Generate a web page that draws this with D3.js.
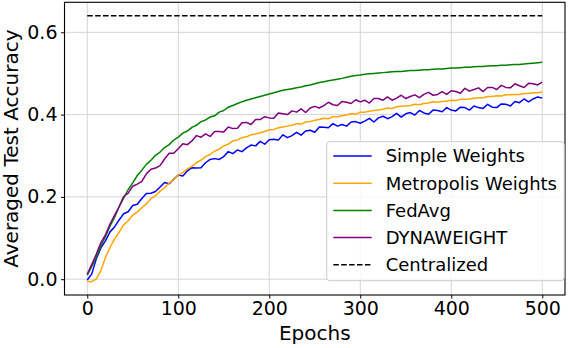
<!DOCTYPE html>
<html>
<head>
<meta charset="utf-8">
<script src="https://cdn.jsdelivr.net/npm/d3@7"></script>
<style>
  html, body { margin: 0; padding: 0; background: #fff; }
  svg { display: block; font-family: "DejaVu Sans", sans-serif; }
</style>
</head>
<body>
<script>
const width = 568;
const height = 348;

// epochs sampled every 5
const epochs = d3.range(0, 505, 5);

const simpleWeights = [
  -0.002, 0.013, 0.050, 0.076, 0.093, 0.115, 0.127, 0.144, 0.159, 0.164,
  0.179, 0.182, 0.196, 0.208, 0.209, 0.213, 0.224, 0.235, 0.232, 0.243,
  0.253, 0.251, 0.263, 0.271, 0.270, 0.271, 0.283, 0.291, 0.293, 0.291,
  0.298, 0.310, 0.305, 0.314, 0.310, 0.319, 0.326, 0.324, 0.335, 0.328,
  0.339, 0.340, 0.338, 0.351, 0.344, 0.349, 0.357, 0.350, 0.360, 0.362,
  0.357, 0.370, 0.369, 0.368, 0.378, 0.372, 0.376, 0.372, 0.382, 0.383,
  0.379, 0.384, 0.391, 0.382, 0.392, 0.396, 0.390, 0.395, 0.403, 0.394,
  0.402, 0.405, 0.399, 0.410, 0.404, 0.401, 0.411, 0.410, 0.407, 0.417,
  0.411, 0.409, 0.418, 0.417, 0.411, 0.421, 0.417, 0.415, 0.425, 0.418,
  0.417, 0.426, 0.425, 0.421, 0.432, 0.429, 0.438, 0.431, 0.438, 0.443,
  0.440
];

const metropolisWeights = [
  -0.005, -0.006, 0.001, 0.021, 0.053, 0.077, 0.098, 0.114, 0.132, 0.142,
  0.156, 0.163, 0.174, 0.183, 0.196, 0.203, 0.214, 0.222, 0.234, 0.242,
  0.253, 0.259, 0.268, 0.274, 0.283, 0.289, 0.298, 0.303, 0.311, 0.316,
  0.324, 0.328, 0.336, 0.338, 0.344, 0.346, 0.351, 0.353, 0.356, 0.359,
  0.363, 0.364, 0.368, 0.370, 0.372, 0.374, 0.378, 0.377, 0.382, 0.383,
  0.386, 0.388, 0.391, 0.390, 0.395, 0.395, 0.397, 0.399, 0.402, 0.401,
  0.406, 0.406, 0.408, 0.410, 0.411, 0.413, 0.416, 0.415, 0.419, 0.420,
  0.421, 0.422, 0.425, 0.424, 0.427, 0.428, 0.431, 0.430, 0.432, 0.433,
  0.435, 0.434, 0.437, 0.437, 0.438, 0.440, 0.441, 0.441, 0.444, 0.444,
  0.446, 0.445, 0.448, 0.448, 0.449, 0.449, 0.451, 0.451, 0.453, 0.453,
  0.455
];

const fedAvg = [
  0.010, 0.031, 0.054, 0.081, 0.104, 0.129, 0.150, 0.176, 0.197, 0.218,
  0.234, 0.252, 0.265, 0.279, 0.289, 0.301, 0.309, 0.320, 0.327, 0.338,
  0.345, 0.355, 0.360, 0.369, 0.374, 0.383, 0.387, 0.394, 0.397, 0.406,
  0.410, 0.418, 0.422, 0.427, 0.431, 0.435, 0.438, 0.441, 0.444, 0.447,
  0.450, 0.453, 0.456, 0.459, 0.461, 0.463, 0.465, 0.467, 0.470, 0.472,
  0.475, 0.478, 0.480, 0.482, 0.484, 0.486, 0.488, 0.491, 0.493, 0.495,
  0.496, 0.498, 0.499, 0.500, 0.501, 0.502, 0.503, 0.504, 0.505, 0.505,
  0.506, 0.507, 0.507, 0.508, 0.509, 0.509, 0.510, 0.511, 0.511, 0.512,
  0.513, 0.513, 0.514, 0.515, 0.515, 0.516, 0.517, 0.517, 0.518, 0.519,
  0.519, 0.520, 0.520, 0.521, 0.522, 0.522, 0.523, 0.524, 0.525, 0.526,
  0.527
];

const dynaWeight = [
  0.012, 0.036, 0.061, 0.089, 0.108, 0.134, 0.155, 0.176, 0.201, 0.209,
  0.226, 0.231, 0.238, 0.256, 0.267, 0.270, 0.276, 0.292, 0.306, 0.306,
  0.317, 0.329, 0.327, 0.336, 0.349, 0.345, 0.353, 0.347, 0.359, 0.359,
  0.358, 0.370, 0.366, 0.367, 0.380, 0.381, 0.376, 0.388, 0.388, 0.395,
  0.392, 0.391, 0.404, 0.402, 0.400, 0.409, 0.406, 0.414, 0.405, 0.416,
  0.420, 0.416, 0.422, 0.430, 0.424, 0.422, 0.432, 0.430, 0.427, 0.436,
  0.431, 0.435, 0.428, 0.439, 0.439, 0.435, 0.443, 0.435, 0.440, 0.447,
  0.439, 0.444, 0.448, 0.441, 0.449, 0.454, 0.447, 0.449, 0.456, 0.449,
  0.458, 0.456, 0.452, 0.464, 0.457, 0.461, 0.465, 0.456, 0.466, 0.466,
  0.461, 0.471, 0.466, 0.465, 0.475, 0.470, 0.466, 0.476, 0.475, 0.472,
  0.479
];

const centralizedEpochs = [0, 500];
const centralized = [0.64, 0.64];

const xTicks = [0, 100, 200, 300, 400, 500];
const yTicks = [0.0, 0.2, 0.4, 0.6];

const series = [
  { name: "Simple Weights", color: "#0000ff", x: epochs, y: simpleWeights, dash: null },
  { name: "Metropolis Weights", color: "#ffa500", x: epochs, y: metropolisWeights, dash: null },
  { name: "FedAvg", color: "#008000", x: epochs, y: fedAvg, dash: null },
  { name: "DYNAWEIGHT", color: "#800080", x: epochs, y: dynaWeight, dash: null },
  { name: "Centralized", color: "#000000", x: centralizedEpochs, y: centralized, dash: "5.5,2.4" }
];

const plot = { left: 64.5, right: 565, top: 2.3, bottom: 295 };

const x = d3.scaleLinear().domain([-25, 525]).range([plot.left, plot.right]);
const y = d3.scaleLinear().domain([-0.0384, 0.6729]).range([plot.bottom, plot.top]);

const svg = d3.select("body").append("svg")
  .attr("width", width)
  .attr("height", height);

// grid
const grid = svg.append("g").attr("stroke", "#d4d4d4").attr("stroke-width", 1);
grid.selectAll("line.vx").data(xTicks).enter().append("line")
  .attr("x1", d => x(d)).attr("x2", d => x(d))
  .attr("y1", plot.top).attr("y2", plot.bottom);
grid.selectAll("line.hy").data(yTicks).enter().append("line")
  .attr("x1", plot.left).attr("x2", plot.right)
  .attr("y1", d => y(d)).attr("y2", d => y(d));

// lines
const line = d3.line()
  .x(d => x(d[0]))
  .y(d => y(d[1]));

svg.append("g")
  .selectAll("path")
  .data(series)
  .enter()
  .append("path")
  .attr("d", s => line(s.x.map((e, i) => [e, s.y[i]])))
  .attr("fill", "none")
  .attr("stroke", s => s.color)
  .attr("stroke-width", 1.5)
  .attr("stroke-linejoin", "round")
  .attr("stroke-dasharray", s => s.dash);

// spines
svg.append("rect")
  .attr("x", plot.left).attr("y", plot.top)
  .attr("width", plot.right - plot.left).attr("height", plot.bottom - plot.top)
  .attr("fill", "none").attr("stroke", "#000").attr("stroke-width", 1.1);

// axes
const xAxis = svg.append("g")
  .attr("transform", `translate(0,${plot.bottom})`)
  .call(d3.axisBottom(x).tickValues(xTicks).tickSize(3.5).tickPadding(3.5).tickSizeOuter(0));
const yAxis = svg.append("g")
  .attr("transform", `translate(${plot.left},0)`)
  .call(d3.axisLeft(y).tickValues(yTicks).tickFormat(d3.format(".1f")).tickSize(3.5).tickPadding(3.5).tickSizeOuter(0));

[xAxis, yAxis].forEach(a => {
  a.select(".domain").remove();
  a.selectAll("line").attr("stroke", "#000").attr("stroke-width", 1);
  a.selectAll("text")
    .attr("fill", "#000")
    .style("font-family", "DejaVu Sans")
    .style("font-size", "19px");
});

// axis labels
svg.append("text")
  .attr("x", (plot.left + plot.right) / 2)
  .attr("y", 340)
  .attr("text-anchor", "middle")
  .style("font-size", "20px")
  .text("Epochs");

svg.append("text")
  .attr("transform", `translate(17.5,${(plot.top + plot.bottom) / 2}) rotate(-90)`)
  .attr("text-anchor", "middle")
  .style("font-size", "20px")
  .text("Averaged Test Accuracy");

// legend
const legend = svg.append("g");
legend.append("rect")
  .attr("x", 326.7).attr("y", 141.7)
  .attr("width", 237.5).attr("height", 139)
  .attr("rx", 3)
  .attr("fill", "#fff").attr("fill-opacity", 0.8)
  .attr("stroke", "#cccccc").attr("stroke-width", 1);

const rows = legend.selectAll("g.row")
  .data(series)
  .enter()
  .append("g")
  .attr("transform", (d, i) => `translate(0,${156 + i * 27.2})`);

rows.append("line")
  .attr("x1", 333.3).attr("x2", 371.7)
  .attr("stroke", d => d.color)
  .attr("stroke-width", 1.5)
  .attr("stroke-dasharray", d => d.dash);

rows.append("text")
  .attr("x", 385.7)
  .attr("dy", "0.35em")
  .style("font-size", "18px")
  .text(d => d.name);
</script>
</body>
</html>
